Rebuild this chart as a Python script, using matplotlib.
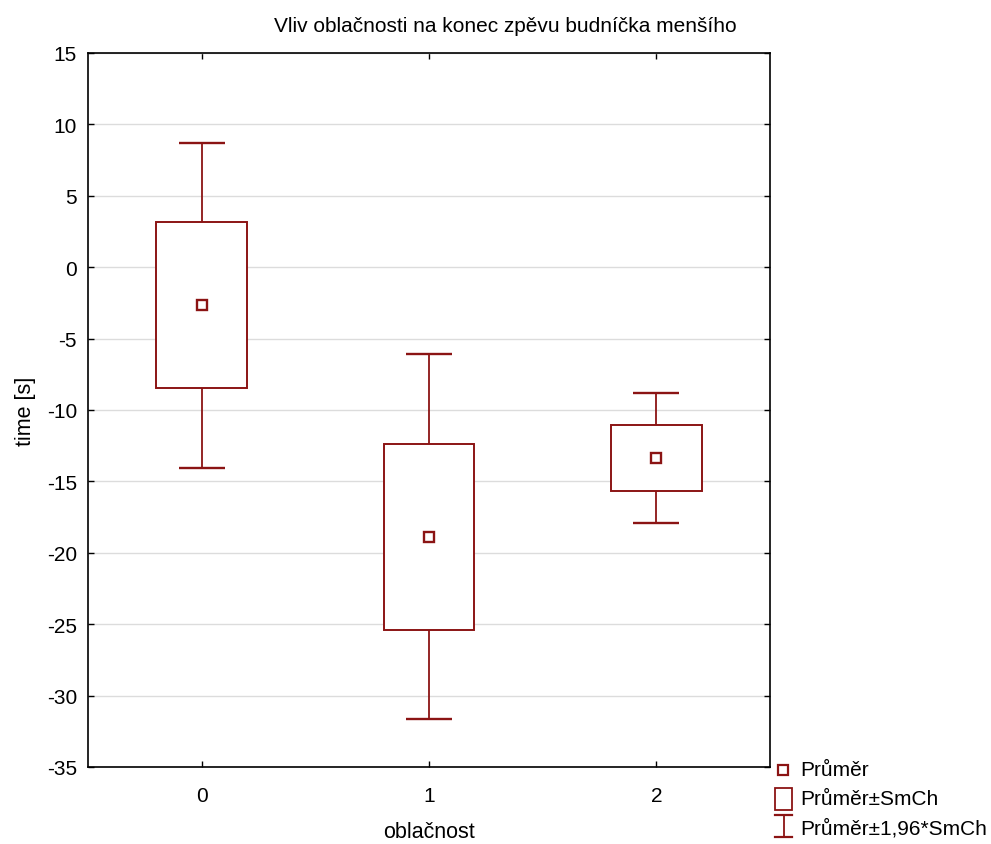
import matplotlib
matplotlib.use("Agg")
import matplotlib.pyplot as plt
from matplotlib.lines import Line2D
from matplotlib.patches import Rectangle

plt.rcParams['font.family'] = ['Liberation Sans', 'DejaVu Sans']
plt.rcParams['axes.unicode_minus'] = False

categories = [0, 1, 2]
means = [-2.66, -18.88, -13.37]
se = [5.80, 6.52, 2.33]
ci_factor = 1.96
yticks = [15, 10, 5, 0, -5, -10, -15, -20, -25, -30, -35]
legend_labels = ['Průměr', 'Průměr±SmCh', 'Průměr±1,96*SmCh']

color = '#8B1414'
W, H = 991, 845

fig = plt.figure(figsize=(W / 100, H / 100), dpi=100)
ax = fig.add_axes([88 / W, 1 - 768 / H, (770 - 88) / W, (768 - 54) / H])

box_bottom = [m - s for m, s in zip(means, se)]
box_height = [2 * s for s in se]
ax.bar(categories, box_height, bottom=box_bottom, width=0.4,
       facecolor='white', edgecolor=color, linewidth=1.4, zorder=3)
ax.errorbar(categories, means, yerr=[ci_factor * s for s in se], fmt='none',
            ecolor=color, elinewidth=1.3, capsize=16.5, capthick=1.7, zorder=2)
ax.plot(categories, means, ls='none', marker='s', ms=7.5, mfc='white',
        mec=color, mew=1.7, zorder=4)

ax.set_xlim(-0.5, 2.5)
ax.set_ylim(-35, 15)
ax.set_xticks(categories)
ax.set_yticks(yticks)
ax.yaxis.grid(True, color='#dcdcdc', linewidth=1.0, zorder=0)
ax.set_axisbelow(True)
ax.tick_params(direction='in', length=4, width=1, top=True, right=True,
               labelsize=15, pad=8)
ax.tick_params(axis='x', pad=14)
for sp in ax.spines.values():
    sp.set_linewidth(1.2)

fig.text(505 / W, 1 - 26 / H, 'Vliv oblačnosti na konec zpěvu budníčka menšího',
         fontsize=15, ha='center', va='center')
ax.set_xlabel('oblačnost', fontsize=15.5, labelpad=11)
ax.set_ylabel('time [s]', fontsize=15.5, labelpad=8)


def fx(x):
    return x / W


def fy(y):
    return 1 - y / H


# manual legend (symbols in figure coordinates)
fig.add_artist(Line2D([fx(783)], [fy(771)], ls='none', marker='s', ms=7,
                      mfc='white', mec=color, mew=1.6, transform=fig.transFigure))
fig.add_artist(Rectangle((fx(775), fy(811)), fx(792) - fx(775), fy(789) - fy(811),
                         facecolor='white', edgecolor=color, linewidth=1.3,
                         transform=fig.transFigure))
fig.add_artist(Line2D([fx(783.5), fx(783.5)], [fy(816), fy(838)], color=color,
                      lw=1.3, transform=fig.transFigure))
for yy in (816, 838):
    fig.add_artist(Line2D([fx(775), fx(792)], [fy(yy), fy(yy)], color=color,
                          lw=1.6, transform=fig.transFigure))
for lab, yy in zip(legend_labels, (771, 800, 829)):
    fig.text(fx(800), fy(yy), lab, fontsize=15, ha='left', va='center')

fig.savefig('out.png', dpi=100)
